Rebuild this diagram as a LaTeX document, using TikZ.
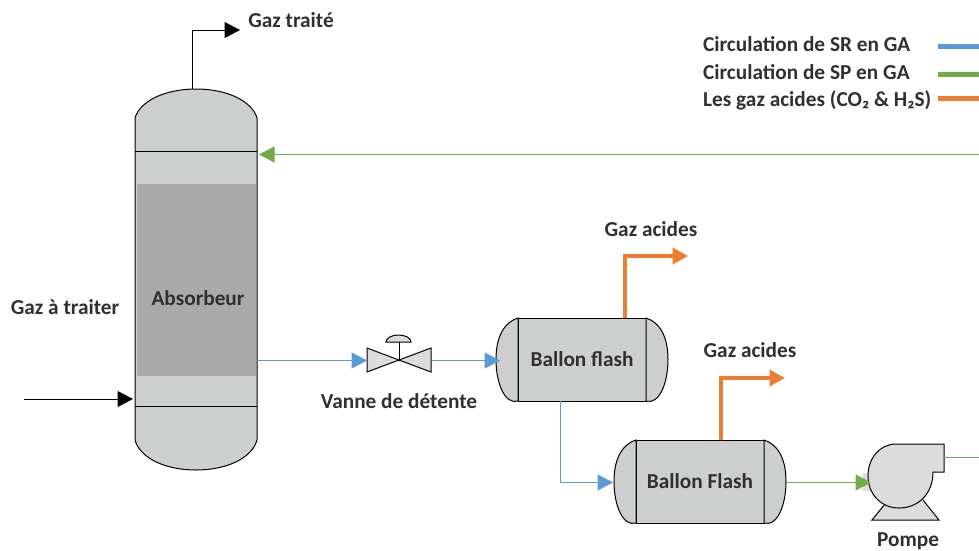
\documentclass[tikz,border=0pt]{standalone}
\usepackage{fontspec}
\setmainfont{Carlito}
\usetikzlibrary{arrows.meta}
\definecolor{srblue}{HTML}{5B9BD5}
\definecolor{spgreen}{HTML}{70AD47}
\definecolor{gaorange}{HTML}{ED7D31}
\definecolor{shellgray}{HTML}{CDCFCE}
\definecolor{packgray}{HTML}{A9A9A9}
\definecolor{fitgray}{HTML}{DCDCDC}
\definecolor{txtgray}{HTML}{303030}
\tikzset{
  lbl/.style={font=\bfseries\fontsize{21.3}{24}\selectfont,text=txtgray,inner sep=0pt},
  shell/.style={draw=black,fill=shellgray,line width=1pt},
  fitting/.style={draw=black,fill=fitgray,line width=1pt},
  ballon/.style={shell,lbl,outer sep=0pt,minimum width=128,minimum height=83},
  bigtip/.style={-{Triangle[length=15.5pt,width=16pt]}},
  feed/.style={bigtip,black,line width=1pt},
  sr/.style={bigtip,srblue,line width=1.1pt},
  sp/.style={bigtip,spgreen,line width=1pt},
  acid/.style={bigtip,gaorange,line width=3.8pt},
}
\begin{document}
\begin{tikzpicture}[x=1pt,y=-1pt]
\useasboundingbox (0,0) rectangle (979,550);
%column
\draw[shell](135,118) .. controls (140,101) and (165,89) .. (196,89)
  .. controls (227,89) and (252,101) .. (257,118)
  --(257,440) .. controls (252,458) and (227,470) .. (196,470)
  .. controls (165,470) and (140,458) .. (135,440)--cycle;
\fill[packgray](137,184) rectangle (256,376);
\draw[shell](135,151)--(257,151);
\draw[shell](135,406)--(257,406);
\node[lbl] (absorbeur) at (198,298) {Absorbeur};
\coordinate (colTop) at (192,89);
\coordinate (colOut) at (257,360.5);
\coordinate (colIn) at (133,399);
\coordinate (colReflux) at (259,154.5);
%ballons
\node[ballon] (flashA) at (582,359.5) {Ballon flash};
\draw[shell](flashA.north west) .. controls +(-13,4) and +(0,-24) .. ++(-22,41.5)
  .. controls +(0,24) and +(-13,4) .. (flashA.south west)--cycle;
\draw[shell](flashA.north east) .. controls +(13,4) and +(0,-24) .. ++(22,41.5)
  .. controls +(0,24) and +(13,4) .. (flashA.south east)--cycle;
\node[ballon] (flashB) at (700,481.5) {Ballon Flash};
\draw[shell](flashB.north west) .. controls +(-13,4) and +(0,-24) .. ++(-22,41.5)
  .. controls +(0,24) and +(-13,4) .. (flashB.south west)--cycle;
\draw[shell](flashB.north east) .. controls +(13,4) and +(0,-24) .. ++(22,41.5)
  .. controls +(0,24) and +(13,4) .. (flashB.south east)--cycle;
\coordinate (flashAin) at (500,360.5);
\coordinate (flashAdown) at (560.5,401);
\coordinate (flashAtop) at (625,318);
\coordinate (flashBin) at (613,482.5);
\coordinate (flashBout) at (786,482.5);
\coordinate (flashBtop) at (721,440);
%valve
\coordinate (vanne) at (399,360);
\draw[fitting](vanne)--++(-32,-12)--++(0,24)--cycle;
\draw[fitting](vanne)--++(32,-12)--++(0,24)--cycle;
\draw[black,line width=0.8pt](vanne)--++(0,-18);
\draw[fitting](386,342) arc[start angle=180,end angle=360,x radius=12.5,y radius=7]--cycle;
\fill[black](vanne) circle (1.3);
\node[lbl] (vanneLbl) at (399,401) {Vanne de détente};
\coordinate (vanneIn) at (367,360.5);
\coordinate (vanneOut) at (432,360.5);
%pump
\fill[fitgray](863,473) rectangle (875,491);
\draw[fitting](885,504)--(872,520)--(939,520)--(923,500);
\draw[fitting](933,472) .. controls (933,494) and (918,508) .. (899,508)
  .. controls (881,508) and (868,494) .. (868,476)
  .. controls (868,458) and (880,444) .. (896,444)
  --(944,444)--(944,472)--cycle;
\node[lbl] (pompeLbl) at (908,541) {Pompe};
\coordinate (pompeIn) at (871,482.5);
\coordinate (pompeOut) at (944,457.5);
%free ends
\coordinate (gazIn) at (24,399);
\coordinate (gazOut) at (240,30);
\coordinate (refluxEnd) at (979,154.5);
\coordinate (pompeEnd) at (979,457.5);
\coordinate (acidA) at (688,256);
\coordinate (acidB) at (785,378);
%lines
\draw[feed](gazIn)--(colIn);
\draw[feed](colTop)|-(gazOut);
\draw[sp](refluxEnd)--(colReflux);
\draw[sr](colOut)--(vanneIn);
\draw[sr](vanneOut)--(flashAin);
\draw[sr](flashAdown)|-(flashBin);
\draw[acid](flashAtop)|-(acidA);
\draw[acid](flashBtop)|-(acidB);
\draw[sp](flashBout)--(pompeIn);
\draw[spgreen,line width=1pt](pompeOut)--(pompeEnd);
%labels
\node[lbl] (gazTraite) at (291,20) {Gaz traité};
\node[lbl] (gazTraiter) at (65,307) {Gaz à traiter};
\node[lbl] (acidesA) at (651,229) {Gaz acides};
\node[lbl] (acidesB) at (750,350) {Gaz acides};
%legend
\node[lbl,anchor=west] (legSR) at (703,44) {Circulation de SR en GA};
\node[lbl,anchor=west] (legSP) at (703,72) {Circulation de SP en GA};
\node[lbl,anchor=west] (legGA) at (703,100) {Les gaz acides (CO₂ \& H₂S)};
\coordinate (legSRa) at (938,46.5);
\coordinate (legSRb) at (979,46.5);
\coordinate (legSPa) at (938,74.5);
\coordinate (legSPb) at (979,74.5);
\coordinate (legGAa) at (938,98.5);
\coordinate (legGAb) at (979,98.5);
\draw[srblue,line width=5pt](legSRa)--(legSRb);
\draw[spgreen,line width=5pt](legSPa)--(legSPb);
\draw[gaorange,line width=5pt](legGAa)--(legGAb);
\end{tikzpicture}
\end{document}
